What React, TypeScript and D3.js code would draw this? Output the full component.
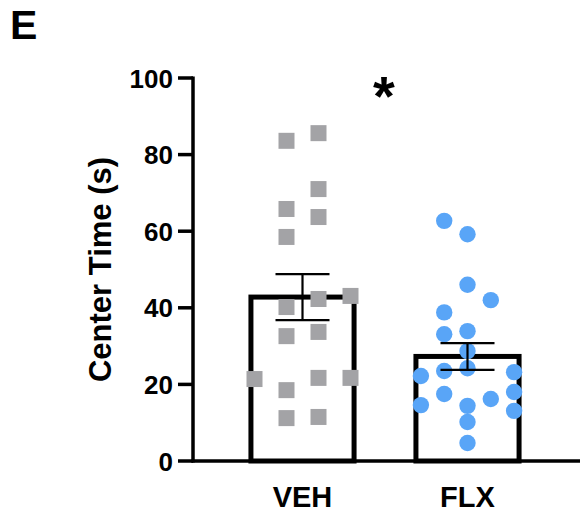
import * as d3 from 'd3';

const groups = ['VEH', 'FLX'];

// per-animal values (s) and their swarm column
const vehValues = [83.6, 85.6, 71.0, 65.8, 63.7, 58.5, 43.1, 42.3, 40.2, 32.6, 33.7, 21.4, 21.7, 21.7, 18.5, 11.2, 11.5];
const vehSlots = [-0.5, 0.5, 0.5, -0.5, 0.5, -0.5, 1.5, 0.5, -0.5, -0.5, 0.5, -1.5, 0.5, 1.5, -0.5, -0.5, 0.5];

const flxValues = [62.7, 59.2, 46.0, 42.0, 38.8, 33.1, 33.9, 28.7, 24.2, 23.5, 22.2, 23.2, 18.0, 17.5, 16.2, 14.6, 13.1, 14.4, 10.2, 4.7];
const flxSlots = [-1, 0, 0, 1, -1, -1, 0, 0, 0, -1, -2, 2, 2, -1, 1, -2, 2, 0, 0, 0];

const means = [42.8, 27.3];
const sems = [6.0, 3.5];

const yTicks = [0, 20, 40, 60, 80, 100];

const W = 580;
const H = 518;
const font = '"Liberation Sans", Arial, Helvetica, sans-serif';

export default function App() {
  const y = d3.scaleLinear().domain([0, 100]).range([461, 78]);
  const x = d3.scaleBand<string>().domain(groups).range([220, 550]);
  const cx = (g: string) => (x(g) ?? 0) + x.bandwidth() / 2;
  const barW = x.bandwidth() * 0.625;
  const axisX = 193;

  const veh = vehValues.map((v, i) => ({ v, s: vehSlots[i] }));
  const flx = flxValues.map((v, i) => ({ v, s: flxSlots[i] }));

  return (
    <svg
      width={W}
      height={H}
      style={{ position: 'absolute', left: 0, top: 0, background: '#fff' }}
      fontFamily={font}
    >
      <text x={10} y={39} fontSize={41} fontWeight="bold">E</text>

      {/* bars */}
      {groups.map((g, i) => (
        <rect
          key={g}
          x={cx(g) - barW / 2}
          y={y(means[i])}
          width={barW}
          height={y(0) - y(means[i])}
          fill="#fff"
          stroke="#000"
          strokeWidth={5}
        />
      ))}

      {/* VEH squares */}
      {veh.map((d, i) => (
        <rect
          key={`v${i}`}
          x={cx('VEH') + d.s * 32 - 8}
          y={y(d.v) - 8}
          width={16}
          height={16}
          fill="#a3a3a6"
        />
      ))}

      {/* FLX circles */}
      {flx.map((d, i) => (
        <circle key={`f${i}`} cx={cx('FLX') + d.s * 23.3} cy={y(d.v)} r={8.2} fill="#59a5f7" />
      ))}

      {/* error bars */}
      {groups.map((g, i) => {
        const c = cx(g);
        const hi = y(means[i] + sems[i]);
        const lo = y(means[i] - sems[i]);
        return (
          <g key={`e${g}`} stroke="#000" strokeWidth={2.2}>
            <line x1={c} x2={c} y1={hi} y2={lo} />
            <line x1={c - 27} x2={c + 27} y1={hi} y2={hi} />
            <line x1={c - 27} x2={c + 27} y1={lo} y2={lo} />
          </g>
        );
      })}

      {/* y axis */}
      <line x1={axisX} x2={axisX} y1={y(100) - 1.5} y2={y(0) + 1.5} stroke="#000" strokeWidth={3.5} />
      {yTicks.map((t) => (
        <g key={t}>
          <line x1={axisX - 15} x2={axisX} y1={y(t)} y2={y(t)} stroke="#000" strokeWidth={3.5} />
          <text x={axisX - 20} y={y(t)} dy="0.37em" textAnchor="end" fontSize={26} fontWeight="bold">
            {t}
          </text>
        </g>
      ))}
      <text
        transform={`translate(111,${(y(0) + y(100)) / 2}) rotate(-90)`}
        textAnchor="middle"
        fontSize={31}
        fontWeight="bold"
      >
        Center Time (s)
      </text>

      {/* x axis */}
      <line x1={axisX - 1.5} x2={W} y1={y(0)} y2={y(0)} stroke="#000" strokeWidth={3.5} />
      {groups.map((g) => (
        <text key={`l${g}`} x={cx(g)} y={507} textAnchor="middle" fontSize={29} fontWeight="bold">
          {g}
        </text>
      ))}

      <text x={(cx('VEH') + cx('FLX')) / 2 - 1} y={115} textAnchor="middle" fontSize={56} fontWeight="bold">
        *
      </text>
    </svg>
  );
}
